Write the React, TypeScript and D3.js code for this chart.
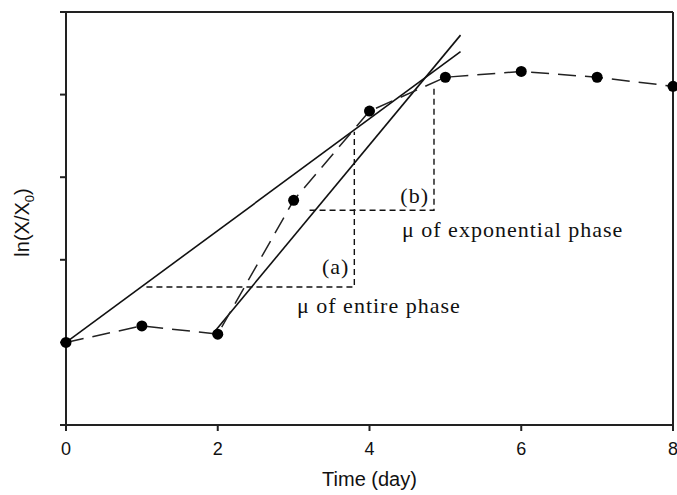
import React from "react";
import * as d3 from "d3";

const WIDTH = 677;
const HEIGHT = 495;

// measured growth points
const days = [0, 1, 2, 3, 4, 5, 6, 7, 8];
const lnValues = [1.0, 1.2, 1.1, 2.72, 3.8, 4.21, 4.28, 4.21, 4.1];

const xTicks = [0, 2, 4, 6, 8];
const yTicks = [0, 1, 2, 3, 4, 5];

// fitted lines: [x0, y0, x1, y1]
const entireLine = [0, 1.0, 5.2, 4.52];
const expLine = [1.93, 1.1, 5.2, 4.72];

// annotation corners: [xStart, xCorner, yLevel, yTop]
const entireBox = [1.06, 3.8, 1.67, 3.55];
const expBox = [3.21, 4.85, 2.6, 4.1];

function App() {
    const margin = { top: 12, right: 4, bottom: 70, left: 66 };
    const x = d3.scaleLinear().domain([0, 8]).range([margin.left, WIDTH - margin.right]);
    const y = d3.scaleLinear().domain([0, 5]).range([HEIGHT - margin.bottom, margin.top]);

    const pts = days.map((d, i) => [d, lnValues[i]]);
    const line = d3.line().x(d => x(d[0])).y(d => y(d[1]));

    const serif = "'Liberation Serif', 'Times New Roman', serif";
    const sans = "'Liberation Sans', Arial, sans-serif";

    const boxPath = (b) => `M${x(b[0])},${y(b[2])}H${x(b[1])}V${y(b[3])}`;

    return (
        <svg width={WIDTH} height={HEIGHT} style={{ position: "absolute", left: 0, top: 0, background: "#fff" }}>
            {/* frame */}
            <line x1={x(0)} x2={x(8)} y1={y(5)} y2={y(5)} stroke="#222" strokeWidth={2} />
            <line x1={x(8)} x2={x(8)} y1={y(5)} y2={y(0)} stroke="#222" strokeWidth={2} />
            <line x1={x(0) - 6} x2={x(8)} y1={y(0)} y2={y(0)} stroke="#222" strokeWidth={2} />
            <line x1={x(0)} x2={x(0)} y1={y(5)} y2={y(0) + 6} stroke="#222" strokeWidth={2} />

            {xTicks.map(t => (
                <g key={"x" + t}>
                    <line x1={x(t)} x2={x(t)} y1={y(0)} y2={y(0) + 6} stroke="#222" strokeWidth={2} />
                    <text x={x(t)} y={y(0) + 30} textAnchor="middle" fontFamily={sans} fontSize={18} fill="#111">{t}</text>
                </g>
            ))}
            {yTicks.map(t => (
                <line key={"y" + t} x1={x(0) - 6} x2={x(0)} y1={y(t)} y2={y(t)} stroke="#222" strokeWidth={2} />
            ))}

            <text x={x(4)} y={HEIGHT - 9} textAnchor="middle" fontFamily={sans} fontSize={20} fill="#111">Time (day)</text>
            <text transform={`translate(29,${(y(0) + y(5)) / 2 + 4}) rotate(-90)`} textAnchor="middle" fontFamily={sans} fontSize={20} fill="#111">
                ln(X/X<tspan fontSize={13} dy={5}>0</tspan><tspan dy={-5}>)</tspan>
            </text>

            {/* fitted lines */}
            <line x1={x(entireLine[0])} y1={y(entireLine[1])} x2={x(entireLine[2])} y2={y(entireLine[3])} stroke="#111" strokeWidth={1.6} />
            <line x1={x(expLine[0])} y1={y(expLine[1])} x2={x(expLine[2])} y2={y(expLine[3])} stroke="#111" strokeWidth={1.6} />

            {/* slope triangles */}
            <path d={boxPath(entireBox)} fill="none" stroke="#111" strokeWidth={1.4} strokeDasharray="6,4" />
            <path d={boxPath(expBox)} fill="none" stroke="#111" strokeWidth={1.4} strokeDasharray="6,4" />

            {/* data */}
            <path d={line(pts)} fill="none" stroke="#222" strokeWidth={1.5} strokeDasharray="18,9" />
            {pts.map((p, i) => (
                <circle key={i} cx={x(p[0])} cy={y(p[1])} r={5.5} fill="#000" />
            ))}

            <g fontFamily={serif} fontSize={22} fill="#111" letterSpacing={1}>
                <text x={x(entireBox[1]) - 5} y={274} textAnchor="end">(a)</text>
                <text x={x(expBox[1]) - 5} y={203} textAnchor="end">(b)</text>
                <text x={297} y={313}>μ of entire phase</text>
                <text x={402} y={237}>μ of exponential phase</text>
            </g>
        </svg>
    );
}

export default App;
